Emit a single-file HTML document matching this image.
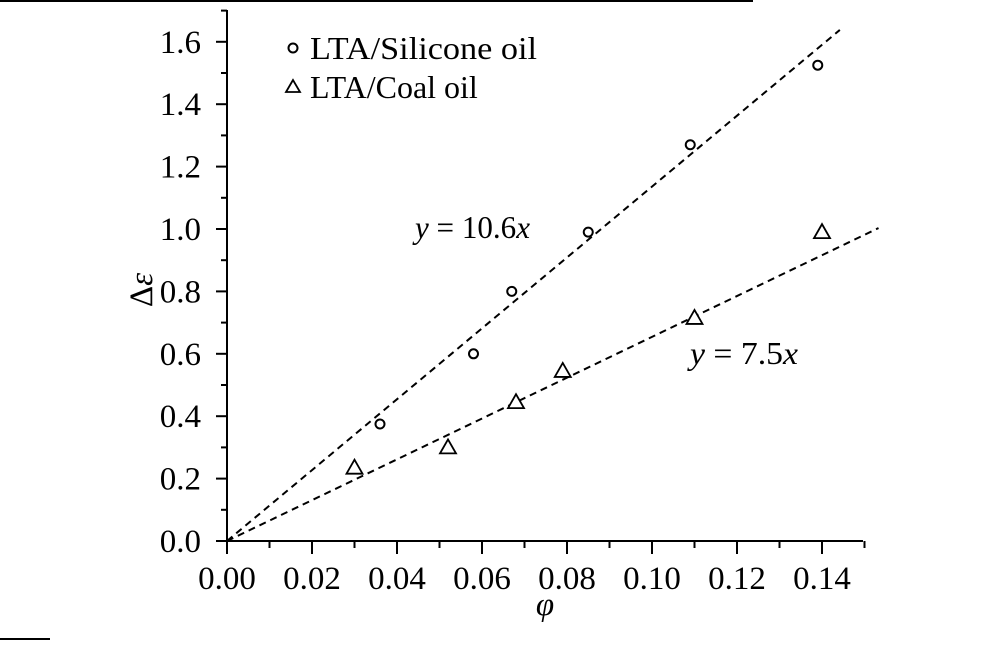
<!DOCTYPE html>
<html><head><meta charset="utf-8"><style>
html,body{margin:0;padding:0;background:#fff;}
svg{display:block;font-family:"Liberation Serif",serif;}
</style></head><body>
<svg width="992" height="645" viewBox="0 0 992 645" id="chart">
<line x1="0" y1="1" x2="753" y2="1" stroke="#000" stroke-width="2"/>
<line x1="0" y1="639" x2="50" y2="639" stroke="#000" stroke-width="2"/>
<g id="axes"></g>
<g id="marks"></g>
<text x="415" y="238" font-size="32" font-style="italic" textLength="115" lengthAdjust="spacingAndGlyphs">y<tspan font-style="normal"> = 10.6</tspan>x</text>
<text x="690" y="364" font-size="32" font-style="italic" textLength="108" lengthAdjust="spacingAndGlyphs">y<tspan font-style="normal"> = 7.5</tspan>x</text>
<text transform="translate(152,290) rotate(-90)" font-size="33" text-anchor="middle">Δ<tspan font-style="italic">ε</tspan></text>
<text x="545" y="615" font-size="33" font-style="italic" text-anchor="middle">φ</text>
<g>
<circle cx="293" cy="48" r="4.5" fill="none" stroke="#000" stroke-width="2"/>
<text x="310" y="59" font-size="32" textLength="227" lengthAdjust="spacingAndGlyphs">LTA/Silicone oil</text>
<polygon points="293,80 286,92 300,92" fill="none" stroke="#000" stroke-width="1.8"/>
<text x="310" y="98" font-size="32">LTA/Coal oil</text>
</g>
</svg>
<script>
const xTicks = ["0.00","0.02","0.04","0.06","0.08","0.10","0.12","0.14"];
const yTicks = ["0.0","0.2","0.4","0.6","0.8","1.0","1.2","1.4","1.6"];
const siliconeX = [0.036,0.058,0.067,0.085,0.109,0.139];
const siliconeY = [0.375,0.60,0.80,0.99,1.27,1.525];
const coalX = [0.03,0.052,0.068,0.079,0.11,0.14];
const coalY = [0.235,0.30,0.445,0.545,0.715,0.99];
const fitSilicone = [0,0,0.1442,1.638];
const fitCoal = [0,0,0.1533,1.003];
const xs = v => 227 + v*4250;
const ys = v => 541 - v*312;
const NS = "http://www.w3.org/2000/svg";
function mk(tag, attrs, parent){const e=document.createElementNS(NS,tag);for(const k in attrs)e.setAttribute(k,attrs[k]);parent.appendChild(e);return e;}
const axes=document.getElementById('axes'), marks=document.getElementById('marks');
let e;
e=mk('line',{x1:227,y1:541,x2:863,y2:541,stroke:'#000','stroke-width':2},axes);


e=mk('line',{x1:227,y1:10,x2:227,y2:541,stroke:'#000','stroke-width':2},axes);


for(let i=0;i<=15;i++){const v=i*0.01;const maj=i%2===0;
 e=mk('line',{x1:xs(v),y1:541,x2:xs(v),y2:maj?554:548,stroke:'#000','stroke-width':2},axes);
 
 }
xTicks.forEach(t=>{e=mk('text',{x:xs(parseFloat(t)),y:589,'font-size':33,'text-anchor':'middle'},axes);e.textContent=t;
 
 });
for(let i=0;i<=17;i++){const v=i*0.1;if(ys(v)<10)break;const maj=i%2===0;
 e=mk('line',{x1:maj?216:221,y1:ys(v),x2:227,y2:ys(v),stroke:'#000','stroke-width':2},axes);
 
 }
yTicks.forEach(t=>{e=mk('text',{x:201,y:ys(parseFloat(t))+11,'font-size':33,'text-anchor':'end'},axes);e.textContent=t;
 
 });
e=mk('line',{x1:xs(fitSilicone[0]),y1:ys(fitSilicone[1]),x2:xs(fitSilicone[2]),y2:ys(fitSilicone[3]),stroke:'#000','stroke-width':2,'stroke-dasharray':'7,5'},marks);


e=mk('line',{x1:xs(fitCoal[0]),y1:ys(fitCoal[1]),x2:xs(fitCoal[2]),y2:ys(fitCoal[3]),stroke:'#000','stroke-width':2,'stroke-dasharray':'7,5'},marks);


siliconeX.forEach((x,i)=>{e=mk('circle',{cx:xs(x),cy:ys(siliconeY[i]),r:4.5,fill:'#fff',stroke:'#000','stroke-width':2},marks);
 
 });
coalX.forEach((x,i)=>{const cx=xs(x),cy=ys(coalY[i]);
 e=mk('polygon',{points:`${cx},${cy-8} ${cx-8},${cy+6} ${cx+8},${cy+6}`,fill:'#fff',stroke:'#000','stroke-width':1.8},marks);
 
 });
</script>
</body></html>
